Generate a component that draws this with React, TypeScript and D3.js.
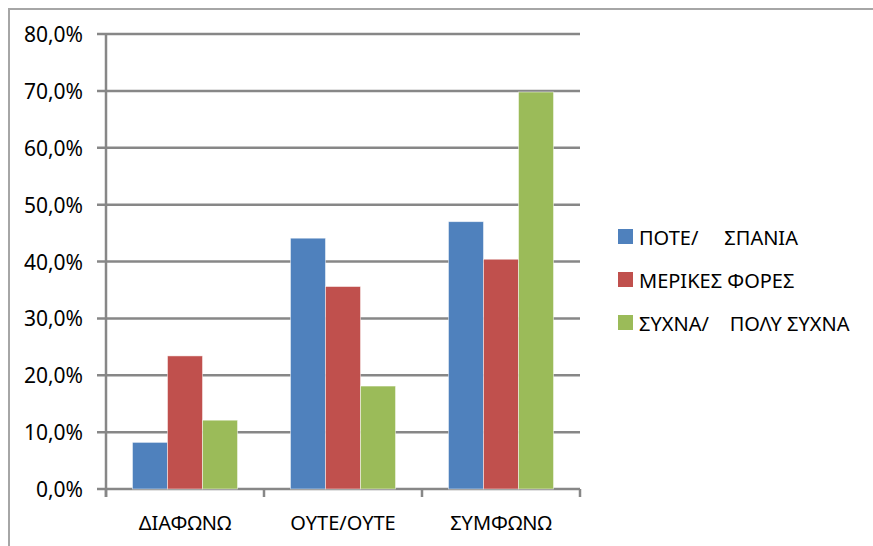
import React from "react";
import * as d3 from "d3";

const categories = ["ΔΙΑΦΩΝΩ", "ΟΥΤΕ/ΟΥΤΕ", "ΣΥΜΦΩΝΩ"];
const seriesNames = ["ΠΟΤΕ/     ΣΠΑΝΙΑ", "ΜΕΡΙΚΕΣ ΦΟΡΕΣ", "ΣΥΧΝΑ/    ΠΟΛΥ ΣΥΧΝΑ"];
const poteValues = [8.2, 44.1, 47.0];
const merikesValues = [23.4, 35.6, 40.4];
const sychnaValues = [12.1, 18.1, 69.8];
const yTicks = [0, 10, 20, 30, 40, 50, 60, 70, 80];
const colors = ["#4f81bd", "#c0504d", "#9bbb59"];

const seriesValues = [poteValues, merikesValues, sychnaValues];

export default function App() {
  const W = 873, H = 546;
  const left = 106, right = 580, top = 34, bottom = 489;
  const x = d3.scaleBand<string>().domain(categories).range([left, right]).paddingInner(0.335).paddingOuter(0.1675);
  const step = (right - left) / categories.length;
  const xs = d3.scaleBand<number>().domain([0, 1, 2]).range([0, x.bandwidth()]);
  const y = d3.scaleLinear().domain([0, 80]).range([bottom, top]);
  const fmt = (v: number) => v.toFixed(1).replace(".", ",") + "%";
  const gridColor = "#878787";
  const font = "'Noto Sans', 'DejaVu Sans', sans-serif";

  return (
    <svg width={W} height={H} style={{ position: "absolute", left: 0, top: 0, background: "#fff" }} fontFamily={font}>
      <rect x={9} y={9} width={W + 20} height={H + 20} fill="#fff" stroke="#a6a6a6" strokeWidth={2} />
      {yTicks.map((t) => (
        <g key={t}>
          <line x1={97} x2={right} y1={y(t)} y2={y(t)} stroke={gridColor} strokeWidth={2.5} />
          <text x={83} y={y(t) + 8} textAnchor="end" fontSize={21} fill="#000">{fmt(t)}</text>
        </g>
      ))}
      <line x1={left} x2={left} y1={top} y2={bottom + 8} stroke={gridColor} strokeWidth={2.5} />
      {d3.range(categories.length + 1).map((i) => (
        <line key={i} x1={left + i * step} x2={left + i * step} y1={bottom} y2={bottom + 8} stroke={gridColor} strokeWidth={2.5} />
      ))}
      {categories.map((c, ci) => (
        <g key={c}>
          {seriesValues.map((vals, si) => (
            <rect
              key={si}
              x={(x(c) as number) + (xs(si) as number)}
              y={y(vals[ci])}
              width={xs.bandwidth()}
              height={bottom - y(vals[ci])}
              fill={colors[si]}
              stroke="#ffffff"
              strokeOpacity={0.6}
              strokeWidth={0.8}
            />
          ))}
          <text x={(x(c) as number) + x.bandwidth() / 2} y={530} textAnchor="middle" fontSize={20} fill="#000">{c}</text>
        </g>
      ))}
      {seriesNames.map((s, i) => (
        <g key={s} transform={`translate(618, ${229 + i * 43})`}>
          <rect x={0} y={0} width={15} height={15} fill={colors[i]} />
          <text x={21} y={16} fontSize={20} fill="#000" style={{ whiteSpace: "pre" }} xmlSpace="preserve">{s}</text>
        </g>
      ))}
    </svg>
  );
}
